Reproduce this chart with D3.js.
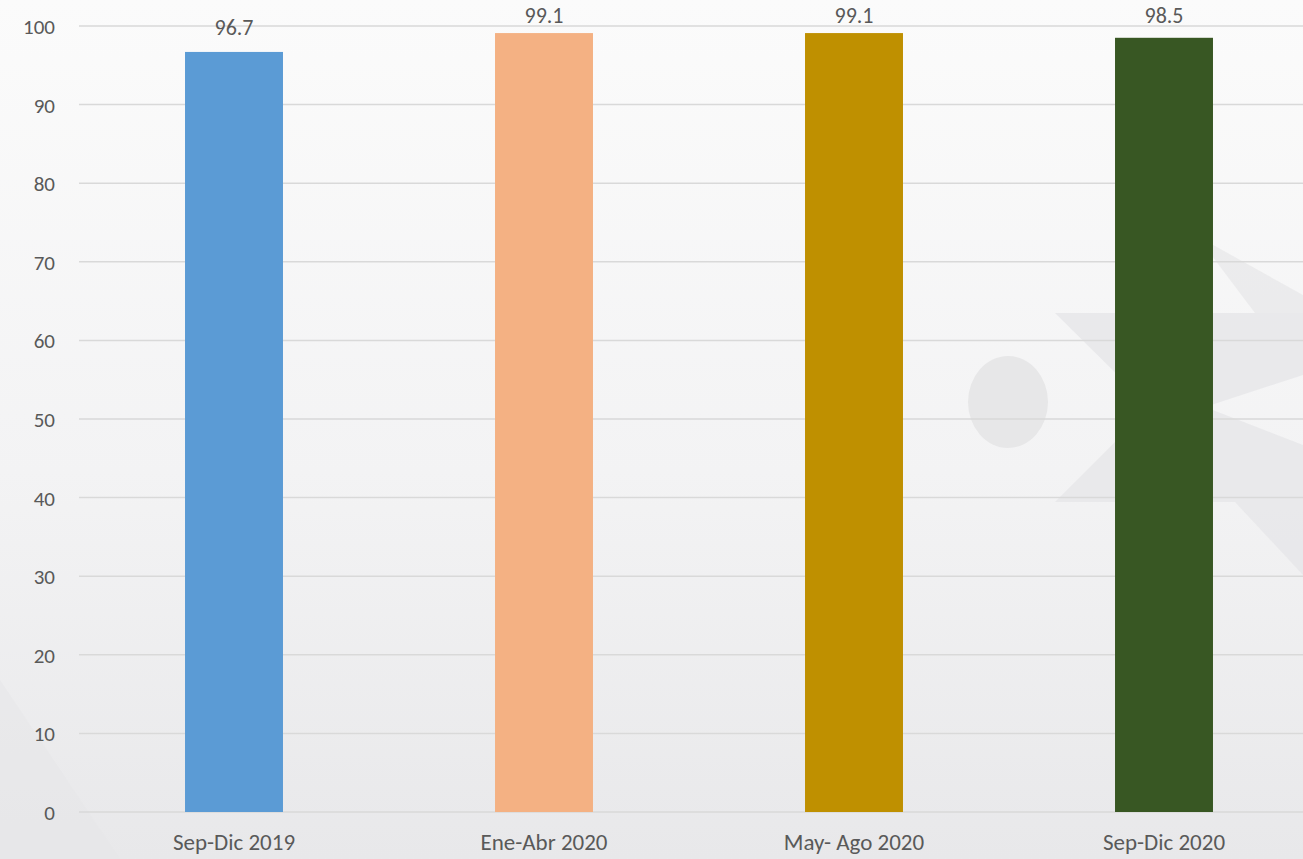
<!DOCTYPE html>
<html>
<head>
<meta charset="utf-8">
<script src="https://cdn.jsdelivr.net/npm/d3@7/dist/d3.min.js"></script>
<style>
  body { margin: 0; overflow: hidden; }
  #vis text { font-family: Carlito, Lato, "Liberation Sans", sans-serif; fill: #595959; }
</style>
</head>
<body>
<div id="vis"></div>
<script>
// Periods and values
var periods = ['Sep-Dic 2019', 'Ene-Abr 2020', 'May- Ago 2020', 'Sep-Dic 2020'];
var values = [96.7, 99.1, 99.1, 98.5];
var barColors = ['#5B9BD5', '#F4B183', '#BF9000', '#385723'];
var yTicks = [0, 10, 20, 30, 40, 50, 60, 70, 80, 90, 100];

var width = 1303, height = 859;
var margin = { left: 79, right: -16, top: 26, bottom: 47 };
var drawWidth = width - margin.left - margin.right;
var drawHeight = height - margin.top - margin.bottom;

var svg = d3.select('#vis').append('svg')
    .attr('width', width)
    .attr('height', height);

// background: soft grey gradient with a faint watermark
var defs = svg.append('defs');
var grad = defs.append('linearGradient')
    .attr('id', 'bg').attr('x1', 0).attr('y1', 0).attr('x2', 0).attr('y2', 1);
grad.append('stop').attr('offset', '0%').attr('stop-color', '#fbfbfb');
grad.append('stop').attr('offset', '55%').attr('stop-color', '#f3f3f4');
grad.append('stop').attr('offset', '100%').attr('stop-color', '#e8e8ea');
svg.append('rect').attr('width', width).attr('height', height).attr('fill', 'url(#bg)');

var wm = svg.append('g').attr('class', 'watermark');
wm.append('polygon')
    .attr('points', '1055,313 1303,313 1303,375 1205,407 1303,445 1303,575 1235,502 1055,502 1150,407')
    .attr('fill', '#e6e6e8').attr('opacity', 0.8);
wm.append('polygon').attr('points', '1197,236 1303,295 1303,313 1255,313')
    .attr('fill', '#e8e8ea').attr('opacity', 0.8);
wm.append('ellipse').attr('cx', 1008).attr('cy', 402).attr('rx', 40).attr('ry', 46)
    .attr('fill', '#e7e7e8');
wm.append('polygon').attr('points', '0,680 120,859 0,859')
    .attr('fill', '#e6e6e8').attr('opacity', 0.5);

var g = svg.append('g')
    .attr('transform', 'translate(' + margin.left + ',' + margin.top + ')');

var xScale = d3.scaleBand()
    .domain(periods)
    .range([0, drawWidth])
    .paddingInner(0.684)
    .paddingOuter(0.342);

var yScale = d3.scaleLinear()
    .domain([0, 100])
    .range([drawHeight, 0]);

// gridlines
g.selectAll('line.grid').data(yTicks).enter().append('line')
    .attr('class', 'grid')
    .attr('x1', 0)
    .attr('x2', drawWidth)
    .attr('y1', function(d) { return yScale(d); })
    .attr('y2', function(d) { return yScale(d); })
    .attr('stroke', '#d9d9d9')
    .attr('stroke-width', 1.5);

// y axis labels
var yAxis = d3.axisLeft(yScale).tickValues(yTicks).tickSize(0).tickPadding(24);
var yAxisG = g.append('g').call(yAxis);
yAxisG.select('.domain').remove();
yAxisG.selectAll('text').style('font-size', '21px').attr('dy', '0.36em');

// x axis labels
var xAxis = d3.axisBottom(xScale).tickSize(0).tickPadding(22);
var xAxisG = g.append('g')
    .attr('transform', 'translate(0,' + drawHeight + ')')
    .call(xAxis);
xAxisG.select('.domain').remove();
xAxisG.selectAll('text').style('font-size', '23px').attr('dy', '0.68em');

// bars
var data = periods.map(function(p, i) {
    return { period: p, value: values[i], color: barColors[i] };
});

g.selectAll('rect.bar').data(data).enter().append('rect')
    .attr('class', 'bar')
    .attr('x', function(d) { return xScale(d.period); })
    .attr('width', xScale.bandwidth())
    .attr('y', function(d) { return yScale(d.value); })
    .attr('height', function(d) { return drawHeight - yScale(d.value); })
    .attr('fill', function(d) { return d.color; });

// value labels (kept inside the chart area, like the original)
g.selectAll('text.val').data(data).enter().append('text')
    .attr('class', 'val')
    .attr('x', function(d) { return xScale(d.period) + xScale.bandwidth() / 2; })
    .attr('y', function(d) { return Math.max(yScale(d.value) - 17, -3); })
    .attr('text-anchor', 'middle')
    .style('font-size', '22px')
    .text(function(d) { return d.value.toFixed(1); });
</script>
</body>
</html>
